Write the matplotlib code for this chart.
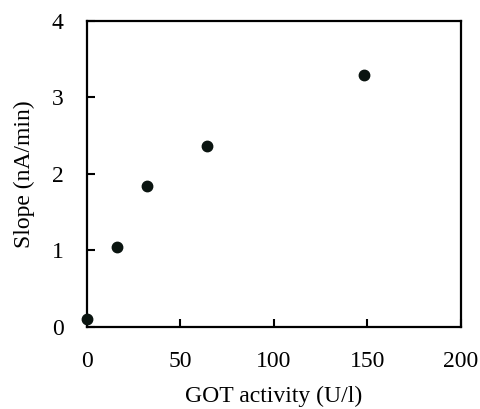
import matplotlib
matplotlib.use("Agg")
from matplotlib import pyplot as plt

got_activity = [0, 16, 32, 64, 148]
slope = [0.10, 1.04, 1.84, 2.36, 3.30]
x_ticks = [0, 50, 100, 150, 200]
y_ticks = [0, 1, 2, 3, 4]

plt.rcParams['font.family'] = ['Liberation Serif', 'DejaVu Serif']

fig = plt.figure(figsize=(4.81, 4.09), dpi=100)
ax = fig.add_axes([0.181, 0.2005, 0.777, 0.7482])

ax.plot(got_activity, slope, 'o', color='#0a1410', markersize=7.5, clip_on=False, zorder=3)

ax.set_xlim(0, 200)
ax.set_ylim(0, 4)
ax.set_xticks(x_ticks)
ax.set_yticks(y_ticks)
ax.tick_params(direction='in', length=6, width=1.5, labelsize=17, pad=17)
for s in ax.spines.values():
    s.set_linewidth(1.6)

ax.set_xlabel('GOT activity (U/l)', fontsize=17, labelpad=10)
ax.set_ylabel('Slope (nA/min)', fontsize=17, labelpad=12)

fig.savefig('out.png', dpi=100)
